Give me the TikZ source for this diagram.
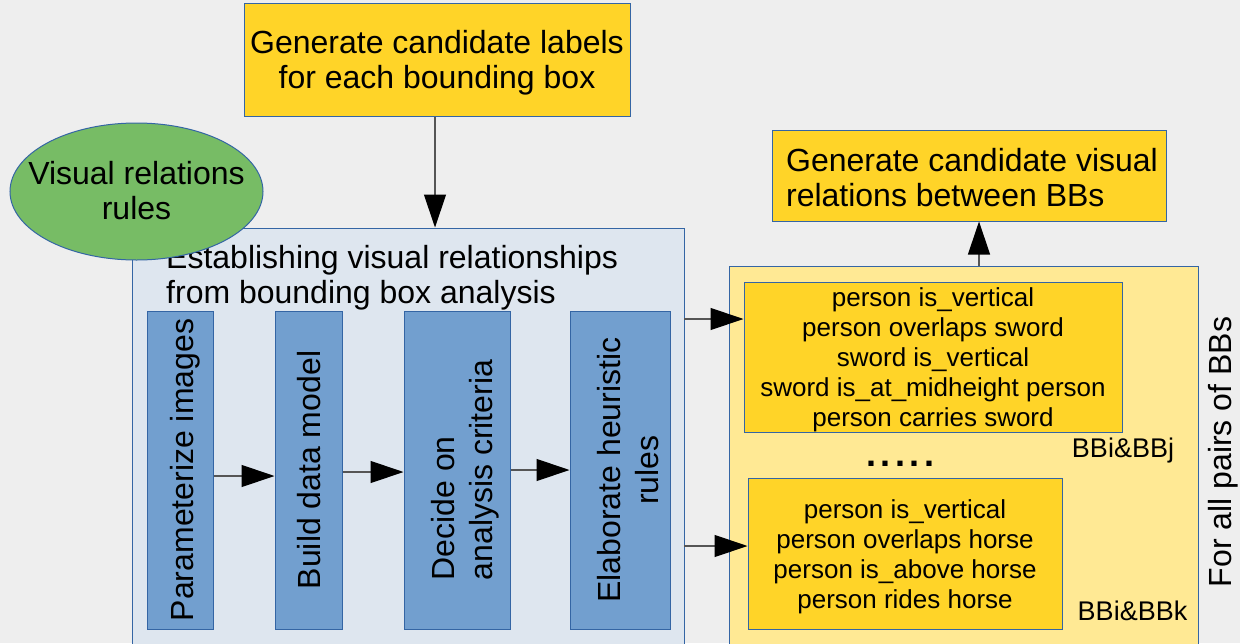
\documentclass[tikz,border=0pt]{standalone}
\usepackage{fontspec}
\setmainfont{Liberation Sans}
\usetikzlibrary{arrows.meta,shapes.geometric}
\definecolor{bgc}{HTML}{EEEEEE}
\definecolor{gold}{HTML}{FFD428}
\definecolor{paley}{HTML}{FFE994}
\definecolor{paleb}{HTML}{DEE6EF}
\definecolor{midb}{HTML}{729FCF}
\definecolor{edgec}{HTML}{3465A4}
\definecolor{grn}{HTML}{77BC65}
\definecolor{lnc}{HTML}{555555}
\newcommand\fbig{\fontsize{32}{35}\selectfont}
\newcommand\fsm{\fontsize{26}{30}\selectfont}
\begin{document}
\begin{tikzpicture}[x=1pt,y=-1pt,
  boxn/.style={draw=edgec,line width=1pt,inner sep=0pt},
  vbox/.style={boxn,fill=midb,font=\fbig},
  txt/.style={inner sep=0pt,font=\fbig,align=center},
  arr/.style={draw=lnc,line width=1.2pt,-{Triangle[length=33pt,width=22pt,color=black]}}]
\fill[bgc] (0,0) rectangle (1240,643);
\useasboundingbox (0,0) rectangle (1240,643);
% top box
\node[boxn,fill=gold,minimum width=386,minimum height=113] (top) at (437,59.5) {};
\node[txt] (topt) at (437,63) {Generate candidate labels\\for each bounding box};
% left panel
\node[boxn,fill=paleb,minimum width=552,minimum height=440] (lp) at (408,448) {};
\node[txt,align=left,anchor=west] (ttl) at (166,278) {Establishing visual relationships\\from bounding box analysis};
\node[boxn,ellipse,fill=grn,minimum width=253,minimum height=137] (ell) at (136.5,191.5) {};
\node[txt] (ellt) at (136.5,191) {Visual relations\\rules};
% process boxes
\node[vbox,minimum width=66,minimum height=318] (b1) at (180,470) {\hspace{10pt}\rotatebox{90}{Parameterize images}};
\node[vbox,minimum width=67,minimum height=318] (b2) at (308.5,470) {\hspace{2pt}\rotatebox{90}{Build data model}};
\node[vbox,minimum width=106,minimum height=318] (b3) at (457,470) {\hspace{18pt}\rotatebox{90}{\renewcommand\arraystretch{1.08}\begin{tabular}{@{}l@{}}Decide on\\analysis criteria\end{tabular}}};
\node[vbox,minimum width=100,minimum height=318] (b4) at (620,470) {\hspace{24pt}\rotatebox{90}{\renewcommand\arraystretch{1.08}\begin{tabular}{@{}c@{}}Elaborate heuristic\\rules\end{tabular}}};
\draw[arr] ([yshift=-6pt]b1.east) -- ([yshift=-6pt]b2.west);
\draw[arr] ([yshift=-2pt]b2.east) -- ([yshift=-2pt]b3.west);
\draw[arr] (b3.east) -- (b4.west);
\draw[arr] ([xshift=-2pt]top.south) -- ([xshift=-2pt]top.south |- lp.north);
% right panel
\node[boxn,fill=paley,minimum width=469,minimum height=400] (rp) at (963.5,466) {};
\node[boxn,fill=gold,minimum width=394,minimum height=91] (trb) at (969,175.5) {};
\node[txt,align=left] (trbt) at (972,178) {Generate candidate visual\\relations between BBs};
\draw[arr] ([xshift=15.5pt]rp.north) -- ([xshift=15.5pt]rp.north |- trb.south);
\node[boxn,fill=gold,minimum width=378,minimum height=150] (ib1) at (933,357) {};
\node[txt,font=\fsm] (ib1t) at (933,360) {person is\_vertical\\person overlaps sword\\sword is\_vertical\\sword is\_at\_midheight person\\person carries sword};
\node[boxn,fill=gold,minimum width=314,minimum height=151] (ib2) at (905,553.5) {};
\node[txt,font=\fsm] (ib2t) at (905,557) {person is\_vertical\\person overlaps horse\\person is\_above horse\\person rides horse};
\node[txt,font=\fontsize{27}{30}\selectfont] (lj) at (1123,451) {BBi\&BBj};
\node[txt,font=\fontsize{27}{30}\selectfont] (lk) at (1132.5,611) {BBi\&BBk};
\node[txt,font=\fontsize{36}{38}\selectfont\bfseries,anchor=base,text height=8pt,text depth=0pt] (dots) at (900,466) {.\kern4.5pt.\kern4.5pt.\kern4.5pt.\kern4.5pt.};
\node[txt,rotate=90] (fa) at (1223,452) {For all pairs of BBs};
\coordinate (c1) at (684,319);
\coordinate (c2) at (684,546);
\draw[arr] (c1) -- (c1 -| ib1.west);
\draw[arr] (c2) -- (c2 -| ib2.west);
\end{tikzpicture}
\end{document}
